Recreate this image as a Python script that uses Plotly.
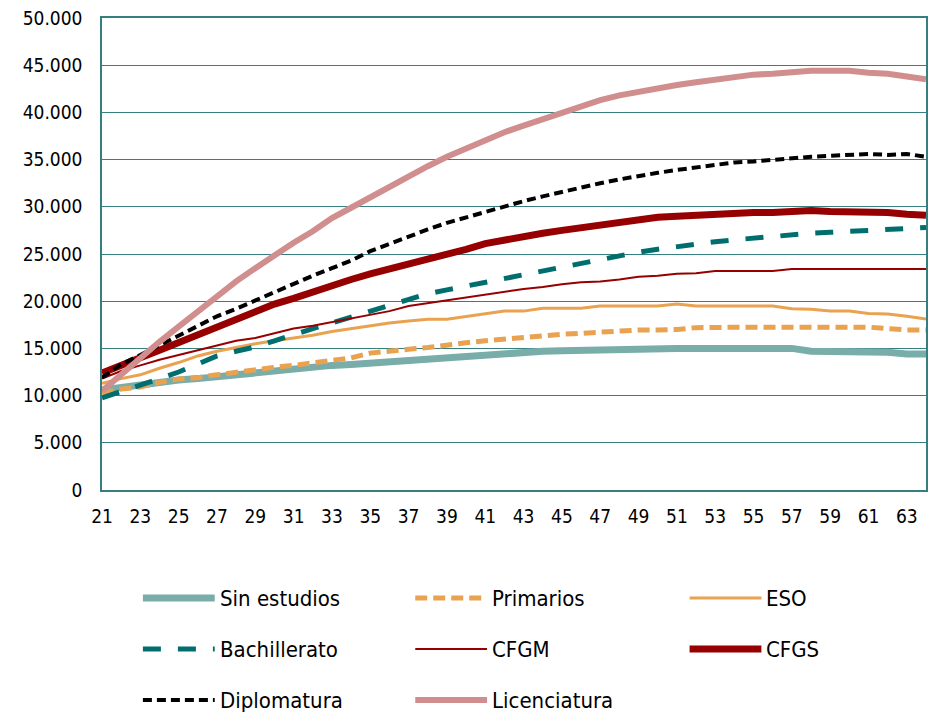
import plotly.graph_objects as go

# Ages (x axis) and yearly earnings per education level
ages = list(range(21, 65))

sin_estudios = [10600, 10900, 11200, 11400, 11650, 11800, 12000, 12200, 12400, 12700,
                12800, 13000, 13200, 13300, 13450, 13500, 13750, 13800, 14000, 14100,
                14300, 14400, 14500, 14700, 14750, 14800, 14850, 15000, 15000, 15000,
                15000, 15000, 15000, 15000, 15000, 15000, 15000, 14700, 14700, 14700,
                14700, 14600, 14400, 14400]
primarios = [10250, 10700, 10900, 11400, 11750, 11900, 12200, 12500, 12700, 13000,
             13200, 13450, 13700, 14000, 14500, 14750, 14900, 15100, 15400, 15600,
             15800, 16000, 16200, 16400, 16500, 16600, 16700, 16900, 16950, 16950,
             17000, 17200, 17250, 17250, 17250, 17250, 17250, 17250, 17250, 17250,
             17250, 17100, 16950, 16950]
eso = [11300, 11800, 12200, 12900, 13500, 14200, 14700, 15100, 15500, 15800,
       16100, 16400, 16800, 17100, 17400, 17700, 17900, 18100, 18100, 18400,
       18700, 18950, 18950, 19250, 19250, 19250, 19500, 19500, 19500, 19500,
       19700, 19500, 19500, 19500, 19500, 19500, 19200, 19150, 18950, 18950,
       18700, 18650, 18400, 18100]
bachillerato = [9750, 10400, 11100, 11800, 12500, 13400, 14200, 14700, 15150, 15800,
                16500, 17100, 17700, 18300, 19000, 19600, 20200, 20800, 21200, 21600,
                22000, 22400, 22900, 23200, 23600, 24000, 24500, 24900, 25200, 25500,
                25800, 26100, 26300, 26500, 26700, 26900, 27100, 27200, 27300, 27400,
                27500, 27600, 27700, 27800]
cfgm = [11800, 12600, 13200, 13800, 14300, 14800, 15300, 15800, 16100, 16600,
        17100, 17400, 17800, 18200, 18600, 18950, 19500, 19800, 20100, 20400,
        20700, 21000, 21300, 21500, 21800, 22000, 22100, 22300, 22600, 22700,
        22900, 22950, 23200, 23200, 23200, 23200, 23400, 23400, 23400, 23400,
        23400, 23400, 23400, 23400]
cfgs = [12400, 13300, 14000, 14800, 15600, 16400, 17200, 18100, 18900, 19700,
        20300, 21000, 21700, 22300, 22900, 23400, 24000, 24500, 25000, 25500,
        26100, 26500, 26900, 27200, 27500, 27800, 28100, 28400, 28700, 28900,
        29000, 29100, 29200, 29400, 29400, 29400, 29500, 29600, 29500, 29500,
        29400, 29400, 29200, 29100]
diplomatura = [11900, 13300, 14300, 15300, 16400, 17400, 18400, 19200, 20100, 21000,
               21800, 22700, 23500, 24300, 25300, 26100, 26900, 27600, 28300, 28900,
               29500, 30000, 30600, 31100, 31600, 32000, 32500, 32900, 33300, 33600,
               33900, 34200, 34500, 34700, 34800, 35000, 35200, 35300, 35400, 35500,
               35600, 35500, 35600, 35300]
licenciatura = [10500, 12300, 14000, 15700, 17300, 18900, 20600, 22100, 23500, 24900,
                26200, 27400, 28800, 29900, 31000, 32200, 33300, 34300, 35300, 36200,
                37100, 37900, 38600, 39300, 39900, 40700, 41300, 41800, 42200, 42600,
                42900, 43200, 43500, 43800, 44000, 44100, 44300, 44400, 44400, 44400,
                44200, 44100, 43800, 43500]

x_ticks = list(range(21, 65, 2))
y_ticks = list(range(0, 50001, 5000))

series = [
    ("Sin estudios", sin_estudios, dict(color="#78ADA9", width=7, dash="solid")),
    ("Primarios", primarios, dict(color="#E9A250", width=5, dash="12px,6px")),
    ("ESO", eso, dict(color="#E9A250", width=3, dash="solid")),
    ("Bachillerato", bachillerato, dict(color="#006E6E", width=5, dash="18px,17px")),
    ("CFGM", cfgm, dict(color="#960000", width=2, dash="solid")),
    ("CFGS", cfgs, dict(color="#960000", width=7, dash="solid")),
    ("Diplomatura", diplomatura, dict(color="#000000", width=4, dash="9px,5px")),
    ("Licenciatura", licenciatura, dict(color="#D18E8E", width=6, dash="solid")),
]

FONT = "DejaVu Sans Condensed, DejaVu Sans, sans-serif"
W, H = 930, 713
L, R, T, B = 102, 928, 18, 490  # plot area in pixels

fig = go.Figure()
for name, vals, style in series:
    fig.add_trace(go.Scatter(x=ages, y=vals, name=name, mode="lines",
                             line=style, showlegend=False))

# Legend drawn as 3-column grid below the plot
def fx(px):
    return (px - L) / (R - L)

def fy(py):
    return (B - py) / (B - T)

col_x = [143, 416, 691]
row_y = [598, 649, 700]
sym_len = 72
shapes, annotations = [], []
for i, (name, _, style) in enumerate(series):
    cx = col_x[i % 3]
    cy = row_y[i // 3]
    shapes.append(dict(type="line", xref="paper", yref="paper",
                       x0=fx(cx), x1=fx(cx + sym_len), y0=fy(cy), y1=fy(cy),
                       line=dict(color=style["color"], width=style["width"],
                                 dash=style["dash"])))
    annotations.append(dict(xref="paper", yref="paper", x=fx(cx + sym_len + 3),
                            y=fy(cy), text=name, showarrow=False,
                            xanchor="left", yanchor="middle",
                            font=dict(family=FONT, size=22, color="#000000")))

grid_col = "#35807F"
fig.update_layout(
    width=W, height=H,
    margin=dict(l=L, r=W - R, t=T, b=H - B),
    paper_bgcolor="white", plot_bgcolor="white",
    separators=",.",
    font=dict(family=FONT, size=19, color="#000000"),
    shapes=shapes, annotations=annotations,
    xaxis=dict(range=[21, 64], tickvals=x_ticks, showgrid=False,
               showline=True, linecolor=grid_col, linewidth=1.5, mirror=True,
               ticks="", ticklabelstandoff=8, zeroline=False),
    yaxis=dict(range=[0, 50000], tickvals=y_ticks, tickformat=",.0f",
               showgrid=True, gridcolor=grid_col, gridwidth=1.3,
               showline=True, linecolor=grid_col, linewidth=1.5, mirror=True,
               ticks="", ticklabelstandoff=14, zeroline=False),
)

fig.write_html("out.html")
